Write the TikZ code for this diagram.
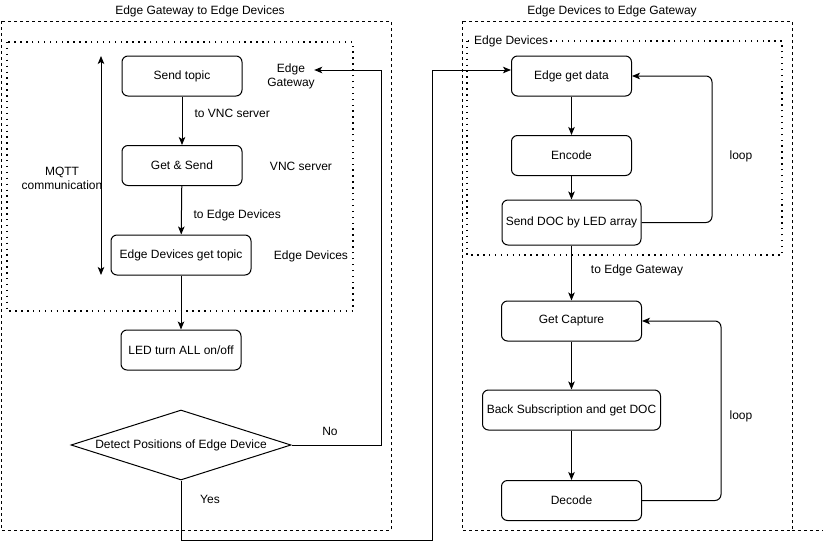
\documentclass[tikz,border=0pt]{standalone}
\usepackage{fontspec}
\setmainfont{Liberation Sans}
\usetikzlibrary{shapes.geometric, arrows.meta}

\begin{document}
\begin{tikzpicture}[x=1pt, y=-1pt, >={Stealth[length=8pt, width=6.5pt, inset=2pt]},
    box/.style={draw, line width=1pt, rounded corners=6pt, minimum width=120pt, minimum height=40pt, inner sep=2pt},
    txt/.style={font=\fontsize{12}{14}\selectfont, text=black},
    dashbox/.style={draw, line width=0.8pt, dash pattern=on 3pt off 3pt},
    dotbox/.style={draw, line width=1.4pt, dash pattern=on 1.4pt off 4.5pt},
    flow/.style={->, line width=1pt}]
    \useasboundingbox (0,0) rectangle (823,549);
    \tikzset{every node/.append style={txt}}

    % Outer and inner frames
    \draw[dashbox] (1,21) rectangle (391,530);
    \draw[dashbox] (462,21) rectangle (792,530);
    \draw[dashbox] (792,530) -- (823,530);
    \draw[dotbox] (7,42) rectangle (353,311);
    \draw[dotbox] (467,41) rectangle (782,255);

    % Titles
    \node (titleL) at (200,11) {Edge Gateway to Edge Devices};
    \node (titleR) at (612,11) {Edge Devices to Edge Gateway};
    \node[fill=white, inner sep=1pt, anchor=west] (devR) at (473,41) {Edge Devices};

    % Left flow
    \node[box] (sendtopic) at (182,76) {Send topic};
    \node[box] (getsend) at (182,165.5) {Get \& Send};
    \node[box, minimum width=140pt] (devtopic) at (181,255) {Edge Devices get topic};
    \node[box] (led) at (181,350) {LED turn ALL on/off};
    \node[draw, line width=1pt, diamond, aspect=3.15, inner sep=0pt, minimum width=220pt, minimum height=70pt] (detect) at (181,445) {Detect Positions of Edge Device};

    \node (gwl) [align=center] at (291,76) {Edge\\Gateway};
    \node (vncl) at (301,166) {VNC server};
    \node (devl) at (311,256) {Edge Devices};
    \node (mqtt) [align=center] at (62,178) {MQTT\\communication};
    \node[anchor=west] (tovnc) at (191,113) {to VNC server};
    \node[anchor=west] (todev) at (190,215) {to Edge Devices};
    \node (nol) at (330,431) {No};
    \node (yesl) at (210,499) {Yes};

    \coordinate (mqtttop) at (101,56);
    \coordinate (mqttbot) at (101,275);
    \draw[<->, line width=1pt] (mqtttop) -- (mqttbot);

    \draw[flow] (sendtopic) -- (getsend);
    \draw[flow] (getsend) -- (devtopic);
    \draw[flow] (devtopic) -- (led);

    % Right flow
    \node[box] (getdata) at (571.5,76) {Edge get data};
    \node[box] (encode) at (571.5,155.5) {Encode};
    \node[box, minimum width=139pt, minimum height=45pt] (senddoc) at (571.5,222.5) {Send DOC by LED array};
    \node[box, minimum width=140pt] (capture) at (571.5,321) {Get Capture};
    \node[box, minimum width=178pt] (backsub) at (571.5,410) {Back Subscription and get DOC};
    \node[box, minimum width=140pt] (decode) at (571.5,500.5) {Decode};

    \node (loop1) at (741,156) {loop};
    \node (loop2) at (741,416) {loop};
    \node (togw) at (637,270) {to Edge Gateway};

    \draw[flow] (getdata) -- (encode);
    \draw[flow] (encode) -- (senddoc);
    \draw[flow] (senddoc) -- (capture);
    \draw[flow] (capture) -- (backsub);
    \draw[flow] (backsub) -- (decode);
    \draw[flow, rounded corners=6pt] (senddoc.east) -- (712,222.5) |- (getdata.east);
    \draw[flow, rounded corners=6pt] (decode.east) -- (721,500.5) |- (capture.east);

    % No / Yes branches
    \coordinate (nocorner) at (381,445);
    \coordinate (yescorner) at (432,540);
    \draw[flow] (detect.east) -- (nocorner) |- ([xshift=-4pt, yshift=6pt]gwl.east);
    \draw[flow] (detect.south) |- (yescorner) |- ([yshift=6pt]getdata.west);
\end{tikzpicture}
\end{document}
